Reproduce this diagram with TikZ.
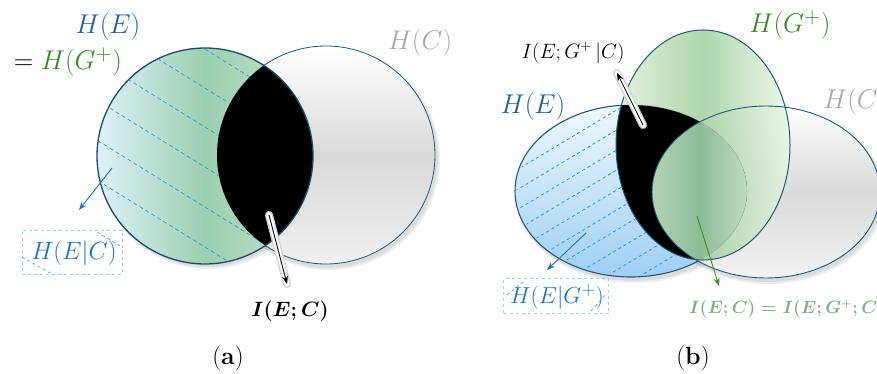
\documentclass[tikz,border=0pt]{standalone}
\usepackage{amsmath}
\usepackage{graphicx}
\usetikzlibrary{arrows.meta}
\definecolor{eblue}{HTML}{1F5FA8}
\definecolor{ggreen}{HTML}{3A8A2A}
\definecolor{cgrey}{HTML}{A8A8A8}
\definecolor{hblue}{HTML}{2E95DD}
\definecolor{lblblue}{HTML}{1A72C0}
\definecolor{boxblue}{HTML}{9CCDEF}
\definecolor{rimteal}{HTML}{1E5A78}
\definecolor{sage}{HTML}{84AE88}
\definecolor{aleft}{HTML}{DDF1F7}
\definecolor{amid}{HTML}{9CCFB2}
\definecolor{aright}{HTML}{C6E4C4}
\definecolor{etop}{HTML}{EEF8FD}
\definecolor{ebot}{HTML}{9ECFF3}
\definecolor{gleft}{HTML}{DCEFD4}
\definecolor{gmid}{HTML}{9CCB98}
\definecolor{gright}{HTML}{E8F6E4}
\definecolor{lensl}{HTML}{B6D6B8}
\definecolor{lensm}{HTML}{8CBC96}
\definecolor{lensr}{HTML}{C2DEC2}
\newcommand{\mybig}[1]{\scalebox{1.09}{#1}}
\newcommand{\mysmallb}[1]{\scalebox{0.93}{#1}}
\newcommand{\mysmallc}[1]{\scalebox{0.86}{#1}}
\begin{document}
\begin{tikzpicture}[x=1pt,y=-1pt,
  big/.style={inner sep=0pt, font=\fontsize{24.88}{30}\selectfont},
  boxtext/.style={inner sep=0pt, font=\fontsize{24.88}{30}\selectfont},
  mid/.style={inner sep=0pt, font=\fontsize{20.74}{25}\selectfont},
  captext/.style={inner sep=0pt, font=\fontsize{24.88}{30}\selectfont},
  hatchA/.style={draw=hblue, dash pattern=on 4pt off 3pt, line width=0.7pt},
  hatchB/.style={draw=hblue, dash pattern=on 3pt off 3pt, line width=0.8pt},
  lblbox/.style={draw=boxblue, dashed, line width=0.6pt, inner sep=0pt},
  shadowf/.style={fill=black, opacity=0.07},
  glowout/.style={draw=gray!35, line width=8pt, line cap=round},
  glowin/.style={draw=white, line width=5pt, line cap=round},
  arr/.style={-{Stealth[length=8pt,width=6pt]}, line width=0.9pt}
]
\useasboundingbox (0,0) rectangle (877,374);

% ================= panel (a) =================
\fill[shadowf] (329,159) circle[radius=111];
\fill[shadowf] (328,158) circle[radius=110];
\fill[shadowf] (208,159) circle[radius=110];
\fill[shadowf] (207,158) circle[radius=109];
\shade[top color=white, bottom color=gray!12, middle color=gray!30] (326,155) circle[radius=109];
\draw[rimteal, line width=0.8pt] (326,155) circle[radius=109];
\shade[left color=aleft, right color=aright, middle color=amid] (205,156) circle[radius=108];
\begin{scope}
  \clip (205,156) circle[radius=107];
  \foreach \b in {-78,-39,0,40,80,120}
    \draw[hatchA] (80,{0.62*80+\b}) -- (330,{0.62*330+\b});
\end{scope}
\begin{scope}
  \clip (205,156) circle[radius=108];
  \fill[black] (326,155) circle[radius=109];
\end{scope}
\draw[rimteal!85!black, line width=1.3pt] (205,156) circle[radius=108];

\node[big] (heA) at (108,27) {\mybig{\color{eblue}$H(E)$}};
\node[big] (hgA) at (68,62) {\mybig{$=\textcolor{ggreen}{H(G^{+})}$}};
\node[big] (hcA) at (420,43) {\mybig{\color{cgrey}$H(C)$}};

\node[lblbox, minimum width=100pt, minimum height=44pt] (hecA) at (72,252) {};
\node[boxtext] (hecAt) at (74,253) {\color{lblblue}$H(E|C)$};
\draw[hatchB, line width=0.6pt] (97,232) -- (122,247);
\draw[hatchB, line width=0.6pt] (22,257) -- (50,273);
\coordinate (bA1) at (112,168);
\coordinate (bA2) at (79,210);
\draw[arr, lblblue] (bA1) -- (bA2);

\node[mid] (iecA) at (290,311) {$\boldsymbol{I(E;C)}$};
\coordinate (aA1) at (269,215);
\coordinate (aA2) at (287,284);
\draw[glowout] (aA1) -- (aA2);
\draw[glowin] (aA1) -- (aA2);
\draw[arr] (aA1) -- (aA2);

\node[captext] (capA) at (228,358) {(\textbf{a})};

% ================= panel (b) =================
\fill[shadowf] (634,195) ellipse[x radius=118, y radius=88];
\fill[shadowf] (633,194) ellipse[x radius=117, y radius=87];
\fill[shadowf] (769,196) ellipse[x radius=116, y radius=88];
\fill[shadowf] (768,195) ellipse[x radius=115, y radius=87];
\shade[top color=etop, bottom color=ebot] (631,191) ellipse[x radius=116, y radius=86];
\begin{scope}
  \clip (631,191) ellipse[x radius=114, y radius=84];
  \foreach \b in {460,480,...,720}
    \draw[hatchB] (500,{\b-0.6*500}) -- (720,{\b-0.6*720});
\end{scope}
\draw[rimteal, line width=1.1pt] (631,191) ellipse[x radius=116, y radius=86];
\shade[top color=white, bottom color=gray!10, middle color=gray!30] (766,192) ellipse[x radius=114, y radius=86];
\shade[left color=gleft, right color=gright, middle color=gmid, opacity=0.8] (703,145) ellipse[x radius=87, y radius=115];
\begin{scope}
  \clip (631,191) ellipse[x radius=116, y radius=86];
  \clip (703,145) ellipse[x radius=87, y radius=115];
  \fill[black] (500,0) rectangle (877,300);
\end{scope}
\begin{scope}
  \clip (631,191) ellipse[x radius=116, y radius=86];
  \clip (766,192) ellipse[x radius=114, y radius=86];
  \shade[left color=lensl, right color=lensr, middle color=lensm] (650,100) rectangle (750,265);
  \draw[gray!55, line width=0.8pt] (631,191) ellipse[x radius=116, y radius=86];
\end{scope}
\draw[rimteal, line width=0.9pt] (766,192) ellipse[x radius=114, y radius=86];
\draw[rimteal, line width=1.0pt] (703,145) ellipse[x radius=87, y radius=115];

\node[big] (heB) at (533,107) {\mybig{\color{eblue}$H(E)$}};
\node[big] (hgB) at (790,25) {\mybig{\color{ggreen}$H(G^{+})$}};
\node[big, anchor=west] (hcB) at (823,102) {\mybig{\color{cgrey}$H(C)$}};

\node[mid] (iegc) at (573,53) {$I(E;G^{+}\,|C)$};
\coordinate (aB1) at (643,125);
\coordinate (aB2) at (617,73);
\draw[glowout] (aB1) -- (aB2);
\draw[glowin] (aB1) -- (aB2);
\draw[arr, line width=0.8pt] (aB1) -- (aB2);

\node[lblbox, minimum width=105pt, minimum height=35pt] (hegB) at (556,296) {};
\node[boxtext] (hegBt) at (557,297) {\mysmallb{\color{lblblue}$H(E|G^{+})$}};
\draw[hatchB, line width=0.6pt] (507,295) -- (523,282);
\draw[hatchB, line width=0.6pt] (591,311) -- (607,293);
\coordinate (bB1) at (586,233);
\coordinate (bB2) at (547,270);
\draw[arr, lblblue] (bB1) -- (bB2);

\node[mid, anchor=west] (iecB) at (689,309) {\mysmallc{\color{sage}$\boldsymbol{I(E;C)=I(E;G^{+};C)}$}};
\coordinate (gB1) at (697,216);
\coordinate (gB2) at (719,286);
\draw[arr, ggreen] (gB1) -- (gB2);

\node[captext] (capB) at (693,358) {(\textbf{b})};
\end{tikzpicture}
\end{document}
